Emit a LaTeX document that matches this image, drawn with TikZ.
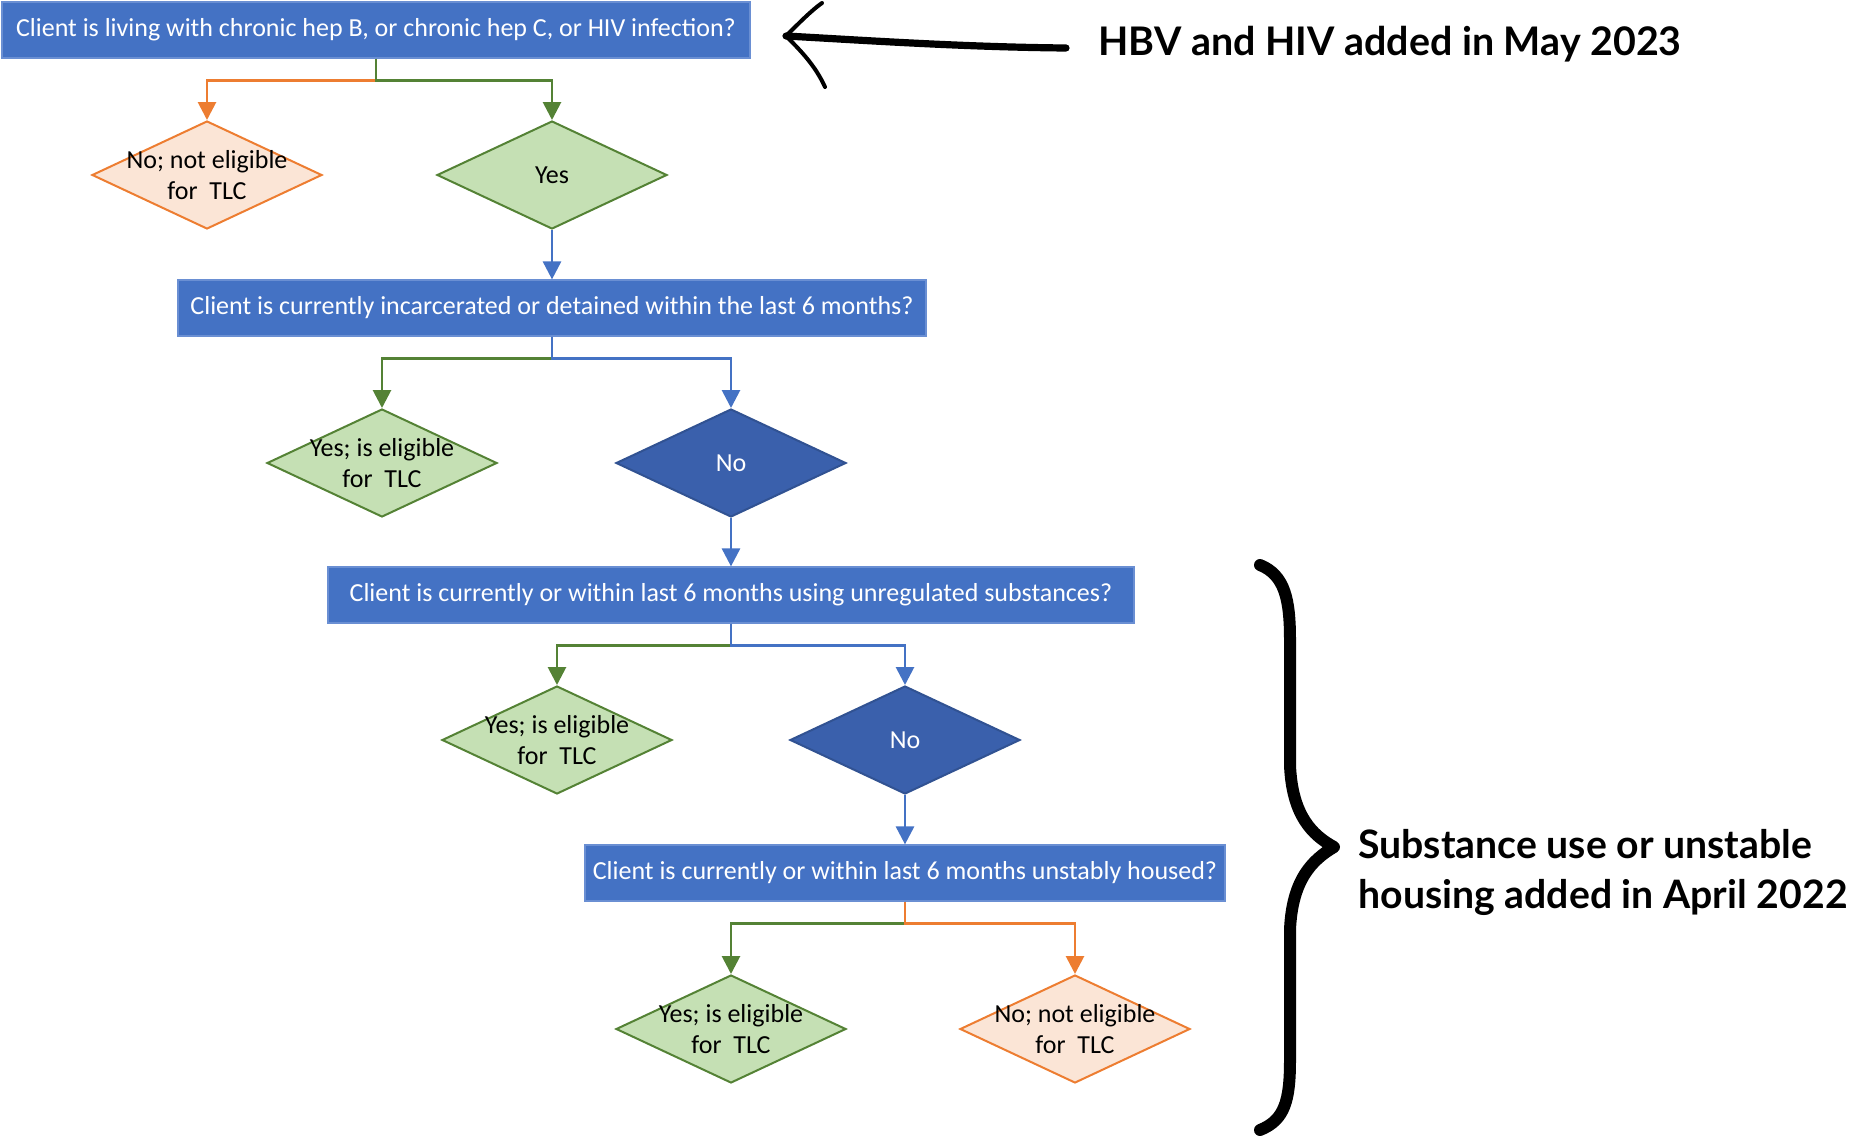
\documentclass[tikz,border=0pt]{standalone}
\usepackage{fontspec}
\setmainfont{Carlito}
\newfontfamily\notefont{Lato}
\usetikzlibrary{shapes.geometric,arrows.meta,positioning}

\definecolor{qblue}{HTML}{4472C4}
\definecolor{qedge}{HTML}{6A8FD3}
\definecolor{darkno}{HTML}{3A60AC}
\definecolor{yesfill}{HTML}{C5E0B4}
\definecolor{yesedge}{HTML}{548235}
\definecolor{nofill}{HTML}{FBE5D6}
\definecolor{noedge}{HTML}{ED7D31}

\tikzset{
  question/.style={rectangle, fill=qblue, draw=qedge, line width=0.6pt,
    text=white, minimum height=28pt, inner sep=0pt,
    font=\fontsize{13}{15}\selectfont},
  decision/.style={diamond, minimum width=115pt, minimum height=54pt,
    inner sep=0pt, line width=1pt},
  yesdia/.style={decision, fill=yesfill, draw=yesedge},
  nodia/.style={decision, fill=nofill, draw=noedge},
  nextdia/.style={decision, fill=darkno, draw=darkno!85!black},
  diatext/.style={align=center, font=\fontsize{13}{15.5}\selectfont},
  link/.style={line width=1.4pt, -{Triangle[width=9pt,length=9pt]}},
  bluelink/.style={link, draw=qblue},
  greenlink/.style={link, draw=yesedge},
  orangelink/.style={link, draw=noedge},
  note/.style={font=\notefont\bfseries\fontsize{20}{25}\selectfont, align=left, inner sep=0pt},
  hand/.style={draw=black, line cap=round, line join=round}
}

\begin{document}
\begin{tikzpicture}[x=0.5pt,y=-0.5pt]

    \useasboundingbox (0,0) rectangle (1865,1136);

    % Questions
    \node[question, minimum width=374pt] (q1) at (376,30)
      {Client is living with chronic hep B, or chronic hep C, or HIV infection?};
    \node[question, minimum width=374pt] (q2) at (552,308)
      {Client is currently incarcerated or detained within the last 6 months?};
    \node[question, minimum width=403pt] (q3) at (731,595)
      {Client is currently or within last 6 months using unregulated substances?};
    \node[question, minimum width=320pt] (q4) at (905,873)
      {Client is currently or within last 6 months unstably housed?};

    % Answers
    \node[nodia, label={[diatext]center:No; not eligible\\for~~TLC}] (no1) at (207,175) {};
    \node[yesdia, label={[diatext]center:Yes}] (yes1) at (552,175) {};

    \node[yesdia, label={[diatext]center:Yes; is eligible\\for~~TLC}] (yes2) at (382,463) {};
    \node[nextdia, label={[diatext, text=white]center:No}] (no2) at (731,463) {};

    \node[yesdia, label={[diatext]center:Yes; is eligible\\for~~TLC}] (yes3) at (557,740) {};
    \node[nextdia, label={[diatext, text=white]center:No}] (no3) at (905,740) {};

    \node[yesdia, label={[diatext]center:Yes; is eligible\\for~~TLC}] (yes4) at (731,1029) {};
    \node[nodia, label={[diatext]center:No; not eligible\\for~~TLC}] (no4) at (1075,1029) {};

    % Links
    \draw[orangelink] (q1.south) -- ++(0,22) -| (no1.north);
    \draw[greenlink]  (q1.south) -- ++(0,22) -| (yes1.north);
    \draw[bluelink]   (yes1.south) -- (q2.north);

    \draw[greenlink]  (q2.south) -- ++(0,22) -| (yes2.north);
    \draw[bluelink]   (q2.south) -- ++(0,22) -| (no2.north);
    \draw[bluelink]   (no2.south) -- (q3.north);

    \draw[greenlink]  (q3.south) -- ++(0,22) -| (yes3.north);
    \draw[bluelink]   (q3.south) -- ++(0,22) -| (no3.north);
    \draw[bluelink]   (no3.south) -- (q4.north);

    \draw[greenlink]  (q4.south) -- ++(0,22) -| (yes4.north);
    \draw[orangelink] (q4.south) -- ++(0,22) -| (no4.north);

    % Notes
    \node[note, anchor=west, font=\notefont\bfseries\fontsize{19.7}{25}\selectfont] (hbv) at (1098,44)
      {HBV and HIV added in May 2023};
    \coordinate (handtip) at (786,36);
    \draw[hand, line width=3.6pt] ([xshift=-16pt,yshift=-2pt]hbv.west)
      .. controls (960,47) and (860,40) .. (handtip);
    \draw[hand, line width=2pt] (handtip) .. controls (800,22) and (812,10) .. (822,3);
    \draw[hand, line width=2pt] (handtip) .. controls (800,50) and (815,65) .. (825,87);

    \coordinate (bracetip) at (1334,847);
    \draw[hand, line width=6pt] (1260,565)
      .. controls (1285,575) and (1290,600) .. (1290,640) -- (1290,765)
      .. controls (1292,815) and (1312,835) .. (bracetip)
      .. controls (1312,860) and (1292,880) .. (1290,930) -- (1290,1060)
      .. controls (1290,1100) and (1285,1120) .. (1260,1130);
    \node[note, anchor=west, font=\notefont\bfseries\fontsize{19.6}{25}\selectfont] (housing) at (1358,872)
      {Substance use or unstable\\housing added in April 2022};

\end{tikzpicture}
\end{document}
